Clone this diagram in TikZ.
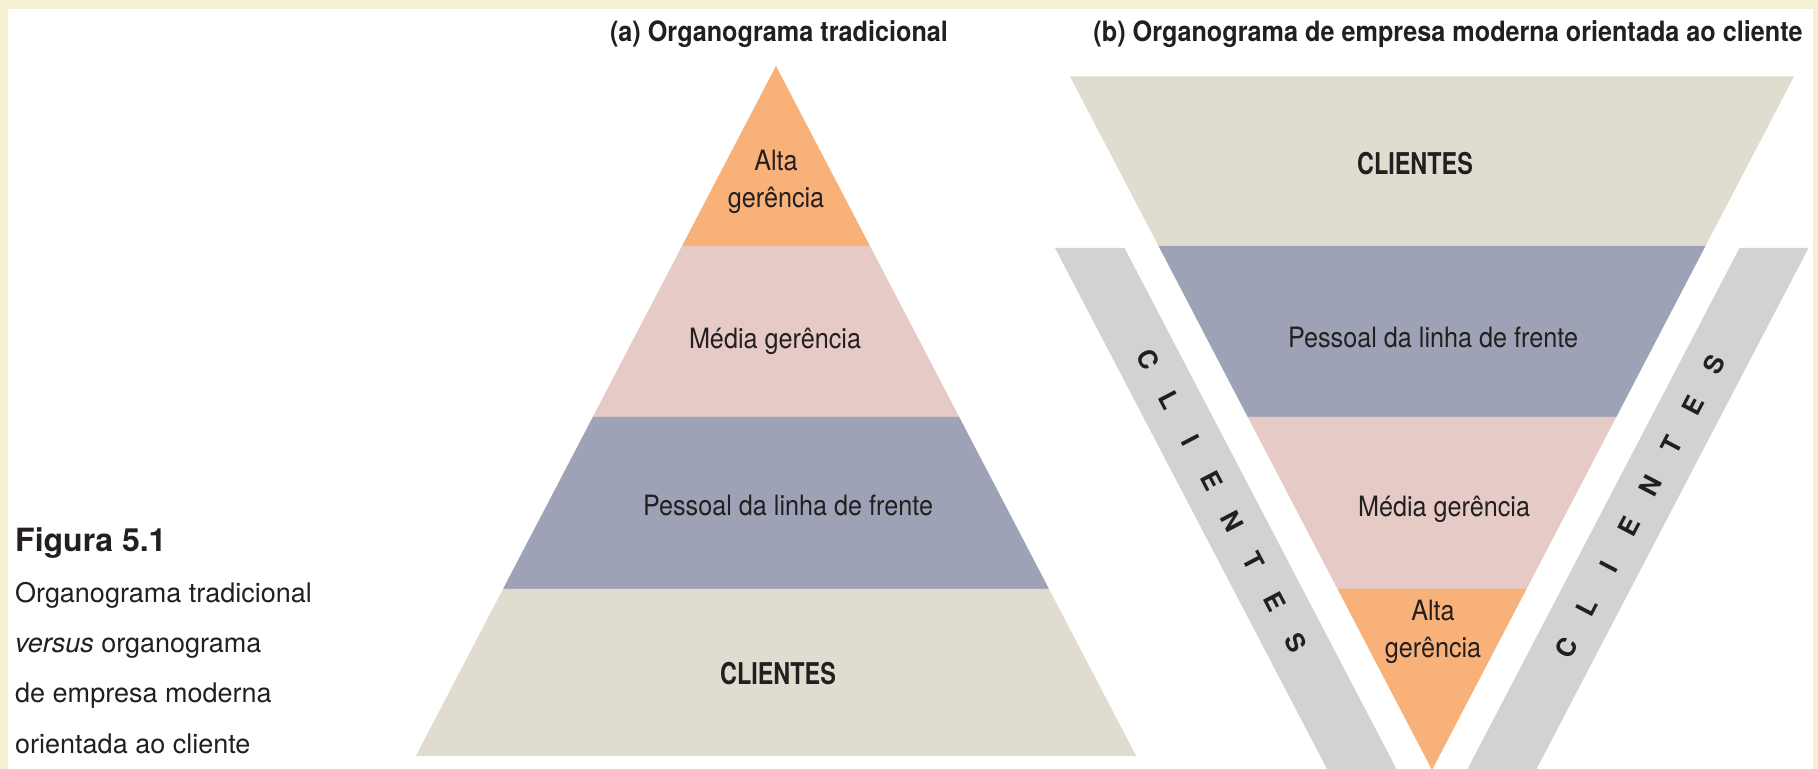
\documentclass[tikz,border=0pt]{standalone}
\usepackage{fontspec}
\setmainfont{TeX Gyre Heros}
\newfontfamily\condfont[FakeStretch=0.9]{TeX Gyre Heros}
\newfontfamily\narrowfont[FakeStretch=0.78]{TeX Gyre Heros}

\tikzset{
  lbl/.style={text=ink,inner sep=0pt,align=center,font=\condfont\fontsize{28bp}{37bp}\selectfont},
  ttl/.style={text=ink,inner sep=0pt,font=\condfont\bfseries\fontsize{28bp}{34bp}\selectfont},
  narrowcap/.style={text=ink,inner sep=0pt,font=\narrowfont\bfseries\fontsize{30bp}{34bp}\selectfont},
  stripch/.style={text=ink,inner sep=0pt,font=\bfseries\fontsize{26bp}{30bp}\selectfont},
  capt/.style={text=ink,inner sep=0pt,anchor=base west,font=\fontsize{27bp}{32bp}\selectfont},
}

\begin{document}
\begin{tikzpicture}[line join=miter]
%%
  \definecolor{cream}{RGB}{246,240,210}
  \definecolor{orangeband}{RGB}{249,177,122}
  \definecolor{pinkband}{RGB}{229,202,198}
  \definecolor{blueband}{RGB}{158,162,182}
  \definecolor{beigeband}{RGB}{224,221,208}
  \definecolor{stripgray}{RGB}{209,210,212}
  \definecolor{ink}{RGB}{35,31,32}
  \useasboundingbox (0bp,0bp) rectangle (1818bp,769bp);
  \fill [cream] (0bp,0bp) rectangle (1818bp,769bp);
  \fill [white] (8bp,0bp) rectangle (1813bp,760bp);
%
  \fill [orangeband] (776bp,703bp) -- (870bp,523bp) -- (682bp,523bp) -- cycle;
  \fill [pinkband] (682bp,523bp) -- (870bp,523bp) -- (959.2bp,352bp) -- (592.8bp,352bp) -- cycle;
  \fill [blueband] (592.8bp,352bp) -- (959.2bp,352bp) -- (1049bp,180bp) -- (503bp,180bp) -- cycle;
  \fill [beigeband] (503bp,180bp) -- (1049bp,180bp) -- (1136.2bp,13bp) -- (415.8bp,13bp) -- cycle;
  \node (titleA) at (779bp,735bp) [ttl] {(a) Organograma tradicional};
  \node (altaA) at (776bp,587bp) [lbl] {Alta\\gerência};
  \node (mediaA) at (775bp,428bp) [lbl] {Média gerência};
  \node (linhaA) at (788bp,264bp) [lbl] {Pessoal da linha de frente};
  \node (clientesA) at (778bp,95bp) [narrowcap] {CLIENTES};
%
  \fill [beigeband] (1070bp,692.5bp) -- (1794bp,692.5bp) -- (1705.5bp,523bp) -- (1158.5bp,523bp) -- cycle;
  \fill [blueband] (1158.5bp,523bp) -- (1705.5bp,523bp) -- (1616.3bp,352bp) -- (1247.7bp,352bp) -- cycle;
  \fill [pinkband] (1247.7bp,352bp) -- (1616.3bp,352bp) -- (1526.5bp,180bp) -- (1337.5bp,180bp) -- cycle;
  \fill [orangeband] (1337.5bp,180bp) -- (1526.5bp,180bp) -- (1432bp,-1bp) -- cycle;
  \fill [stripgray] (1055bp,521bp) -- (1124.5bp,521bp) -- (1396.5bp,0bp) -- (1327bp,0bp) -- cycle;
  \fill [stripgray] (1739.5bp,521bp) -- (1808.5bp,521bp) -- (1536.5bp,0bp) -- (1467.5bp,0bp) -- cycle;
  \node (titleB) at (1448bp,735bp) [ttl] {(b) Organograma de empresa moderna orientada ao cliente};
  \node (clientesB) at (1415bp,605bp) [narrowcap] {CLIENTES};
  \node (linhaB) at (1433bp,432bp) [lbl] {Pessoal da linha de frente};
  \node (mediaB) at (1444bp,260bp) [lbl] {Média gerência};
  \node (altaB) at (1433bp,137.5bp) [lbl] {Alta\\gerência};
%
  \node (l1) at (1148.1bp,409.4bp) [stripch,rotate=-62.4] {C};
  \node (l2) at (1169.2bp,369.0bp) [stripch,rotate=-62.4] {L};
  \node (l3) at (1190.3bp,328.6bp) [stripch,rotate=-62.4] {I};
  \node (l4) at (1211.4bp,288.2bp) [stripch,rotate=-62.4] {E};
  \node (l5) at (1232.6bp,247.8bp) [stripch,rotate=-62.4] {N};
  \node (l6) at (1253.7bp,207.4bp) [stripch,rotate=-62.4] {T};
  \node (l7) at (1274.8bp,167.0bp) [stripch,rotate=-62.4] {E};
  \node (l8) at (1295.9bp,126.6bp) [stripch,rotate=-62.4] {S};
  \node (r1) at (1566.1bp,121.6bp) [stripch,rotate=62.4] {C};
  \node (r2) at (1587.2bp,162.0bp) [stripch,rotate=62.4] {L};
  \node (r3) at (1608.3bp,202.4bp) [stripch,rotate=62.4] {I};
  \node (r4) at (1629.4bp,242.8bp) [stripch,rotate=62.4] {E};
  \node (r5) at (1650.6bp,283.2bp) [stripch,rotate=62.4] {N};
  \node (r6) at (1671.7bp,323.6bp) [stripch,rotate=62.4] {T};
  \node (r7) at (1692.8bp,364.0bp) [stripch,rotate=62.4] {E};
  \node (r8) at (1713.9bp,404.4bp) [stripch,rotate=62.4] {S};
%
  \node (fig) at (15bp,217bp) [capt,font=\bfseries\fontsize{32bp}{36bp}\selectfont] {Figura 5.1};
  \node (cap1) at (15bp,166bp) [capt] {Organograma tradicional};
  \node (cap2) at (15bp,116bp) [capt] {\itshape versus\upshape{} organograma};
  \node (cap3) at (15bp,66bp) [capt] {de empresa moderna};
  \node (cap4) at (15bp,16bp) [capt] {orientada ao cliente};
%
\end{tikzpicture}
\end{document}
